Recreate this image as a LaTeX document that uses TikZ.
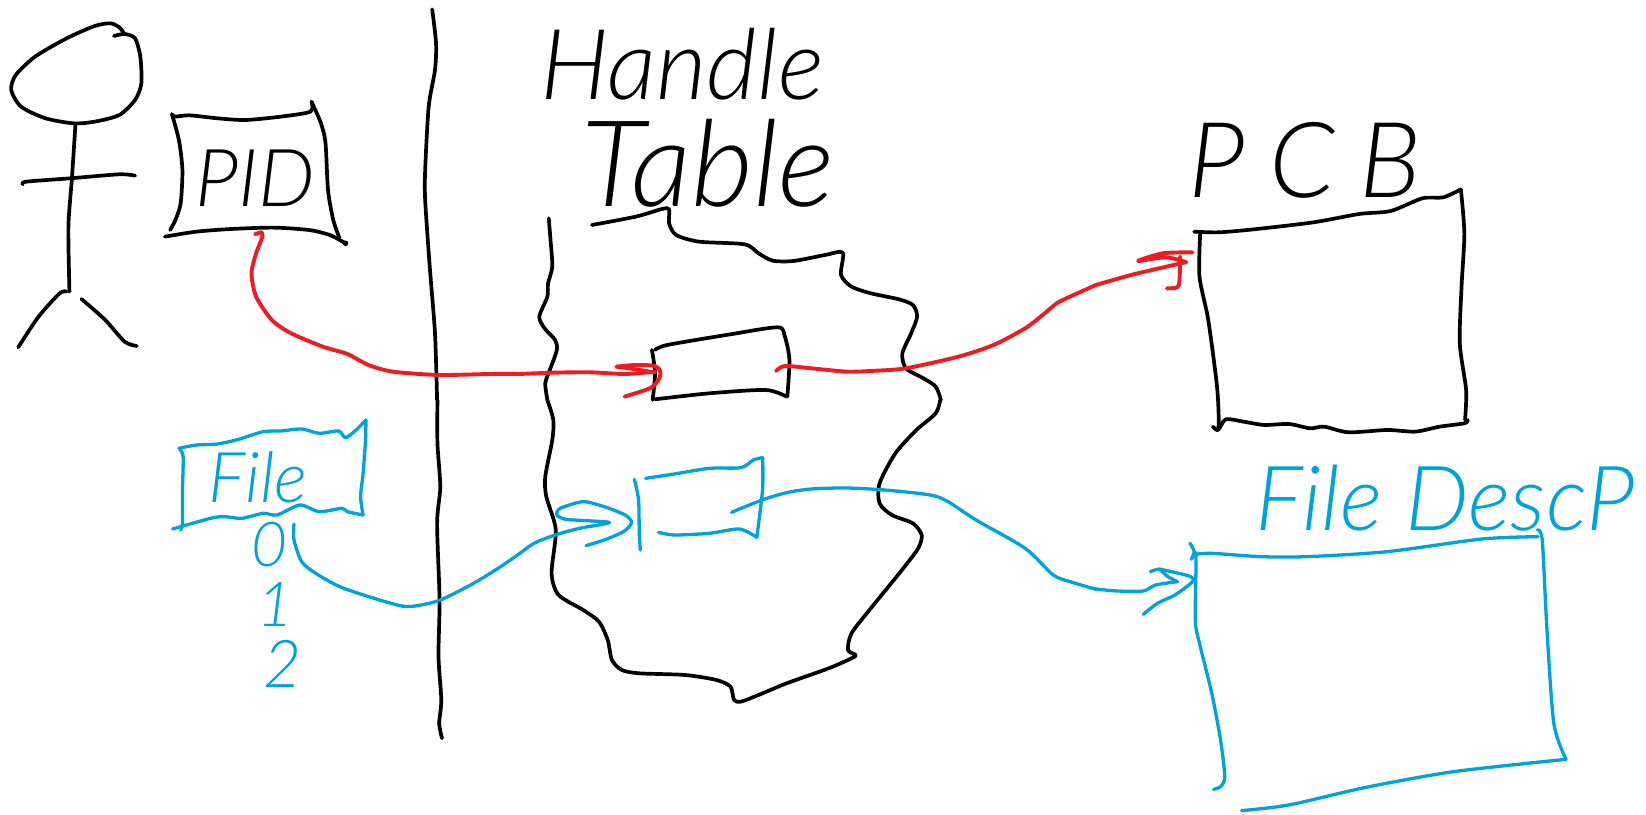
\documentclass[tikz,border=0pt]{standalone}
\usepackage{fontspec}
\usepackage{tikz}
\newfontfamily\handfont{Lato Light}
\definecolor{penblue}{RGB}{0,162,219}
\definecolor{penred}{RGB}{237,28,36}
\tikzset{
  pen/.style={line width=3.7pt,line cap=round,line join=round,smooth,tension=0.45},
  bluepen/.style={pen,line width=3.3pt,penblue},
  redpen/.style={pen,line width=3.9pt,penred},
  strokes/.style={x=0.3508pt,y=-0.3333pt},
  handtext/.style={font=\handfont\itshape\fontsize{#1}{#1}\selectfont,inner sep=0pt}
}
\begin{document}
\begin{tikzpicture}[x=1pt,y=-1pt]
          \useasboundingbox (0,0) rectangle (1646,814);

          \begin{scope}[strokes]
            \draw[pen] plot coordinates {(325,108) (355,102) (385,115) (400,170) (403,250) (385,300) (340,345) (270,365) (210,370) (130,355) (60,320) (32,270) (45,225) (100,170) (190,115) (270,78) (315,70) (340,82) (355,102)};
            \draw[pen] plot coordinates {(215,375) (205,535) (195,680) (198,875)};
            \draw[pen] plot coordinates {(65,553) (75,545) (200,535) (340,523) (385,527)};
            \draw[pen] plot coordinates {(190,875) (170,880) (110,950) (52,1042)};
            \draw[pen] plot coordinates {(232,897) (300,960) (355,1025) (390,1038)};

            \draw[pen] plot coordinates {(490,345) (500,350) (540,346) (620,355) (700,360) (800,350) (885,335) (888,305)};
            \draw[pen] plot coordinates {(888,305) (915,370) (928,430) (935,570) (950,660) (968,715)};
            \draw[pen] plot coordinates {(490,342) (510,420) (520,510) (515,610) (500,660) (485,690)};
            \draw[pen] plot coordinates {(470,710) (560,695) (660,687) (780,683) (880,690) (940,705) (985,730)};
            \fill (985,730) circle [radius=2.8pt];

            \draw[pen] plot coordinates {(1232,28) (1243,130) (1240,210) (1222,320) (1212,510) (1212,600) (1225,800) (1240,1000) (1246,1200)};

            \draw[redpen] plot coordinates {(727,703) (745,697) (748,710) (730,760) (717,820) (730,890) (775,960) (830,1000) (920,1040) (990,1062) (1050,1095) (1120,1115) (1250,1125) (1400,1122) (1482,1122)};
          \end{scope}

          \begin{scope}[yshift=-400pt,strokes]
            \draw[pen] plot coordinates {(1247,0) (1247,130) (1255,260) (1246,370) (1253,600) (1250,770) (1258,900) (1252,970) (1260,1015)};

            \draw[bluepen] plot coordinates {(510,145) (560,135) (620,132) (680,118) (750,95) (800,93) (860,87) (910,100) (965,93) (985,113) (1015,90) (1043,60)};
            \draw[bluepen] plot coordinates {(512,148) (522,170) (520,280) (520,370) (515,390)};
            \draw[bluepen] plot coordinates {(1043,60) (1042,120) (1035,220) (1028,290) (1035,345)};
            \draw[bluepen] plot coordinates {(492,387) (600,355) (640,350) (690,355) (750,340) (790,345) (855,315) (910,335) (975,325) (990,335) (1035,345)};

            \draw[bluepen] plot coordinates {(838,372) (838,420) (860,485) (900,520) (980,565) (1140,617) (1200,615) (1260,598) (1350,550) (1420,505) (1482,460)};
          \end{scope}

          \begin{scope}[xshift=520pt,strokes]
            \draw[pen] plot coordinates {(82,655) (87,720) (92,800) (80,850) (78,890) (55,950) (70,985) (100,1020) (105,1050) (85,1110) (72,1150) (78,1200)};
            \draw[pen] plot coordinates {(205,675) (330,650) (405,627) (425,628) (425,670) (445,705) (510,725) (640,733) (680,760) (720,782) (780,783) (870,765) (920,758) (915,825) (945,860) (1000,880) (1080,898) (1120,915) (1132,950) (1115,1000) (1090,1060) (1100,1105) (1150,1135) (1185,1160) (1200,1200)};

            \draw[pen] plot coordinates {(376,1050) (385,1120) (378,1200)};
            \draw[pen] plot coordinates {(385,1050) (420,1035) (600,1003) (735,982) (755,1010) (768,1080) (762,1190)};
            \draw[pen] plot coordinates {(385,1198) (540,1180) (700,1170) (760,1190)};

            \draw[redpen] plot coordinates {(0,1122) (100,1118) (200,1117) (300,1122) (385,1115)};
            \draw[redpen] plot coordinates {(275,1100) (330,1095) (385,1098) (400,1115) (395,1140) (370,1165) (298,1190)};
            \draw[redpen] plot coordinates {(275,1100) (330,1108) (385,1118)};

            \draw[redpen] plot coordinates {(730,1113) (755,1098) (830,1105) (930,1115) (1000,1113) (1100,1105) (1250,1070) (1350,1035) (1440,985) (1490,945) (1530,910) (1568,890) (1642,855)};
          \end{scope}

          \begin{scope}[xshift=520pt,yshift=-400pt,strokes]
            \draw[pen] plot coordinates {(78,0) (95,60) (92,120) (72,230) (75,290) (102,390) (90,520) (110,585) (180,630) (225,665) (250,720) (262,780) (290,810) (340,820) (470,825) (560,840) (600,860) (610,900) (630,905) (680,885) (760,850) (880,805) (945,775) (957,765) (935,750) (945,700) (1000,625) (1085,515) (1135,445) (1145,405) (1120,370) (1060,345) (1025,310) (1025,250) (1070,160) (1130,90) (1185,40) (1198,0)};

            \draw[bluepen] plot coordinates {(0,460) (40,430) (100,405) (170,385) (255,368) (190,362) (130,358) (105,345) (115,325) (180,305) (240,320) (300,345) (318,368) (295,395) (240,420) (188,437)};

            \draw[bluepen] plot coordinates {(326,238) (338,300) (340,400) (343,450)};
            \draw[bluepen] plot coordinates {(358,235) (440,222) (540,205) (630,203) (665,180) (692,173)};
            \draw[bluepen] plot coordinates {(692,173) (692,260) (685,330) (675,412)};
            \draw[bluepen] plot coordinates {(395,397) (440,405) (540,400) (625,387) (675,412)};

            \draw[bluepen] plot coordinates {(603,337) (690,300) (760,278) (830,267) (930,264) (1040,270) (1170,285) (1220,305) (1300,360) (1440,445) (1520,525) (1568,545) (1642,568)};
          \end{scope}

          \begin{scope}[xshift=1096pt,yshift=-100pt,strokes]
            \draw[pen] plot coordinates {(280,395) (350,397) (450,388) (620,367) (750,342) (840,333) (930,295) (990,292) (1040,268)};
            \draw[pen] plot coordinates {(297,400) (295,530) (320,660) (345,860) (350,970) (345,990)};
            \draw[pen] plot coordinates {(333,980) (348,990) (370,958) (420,965) (480,975) (550,972) (610,985) (650,980) (720,997) (830,990) (910,995) (980,980) (1050,970) (1060,960)};
            \draw[pen] plot coordinates {(1040,268) (1050,400) (1042,560) (1037,730) (1055,870) (1052,960)};

            \draw[redpen] plot coordinates {(0,555) (100,525) (180,505) (255,487)};
            \draw[redpen] plot coordinates {(275,457) (190,460) (120,483) (200,472) (258,487)};
            \draw[redpen] plot coordinates {(240,470) (238,540) (232,562) (202,565)};
          \end{scope}

          \begin{scope}[xshift=1096pt,yshift=-440pt,strokes]
            \draw[bluepen] plot coordinates {(268,310) (280,335) (272,358) (285,345) (283,540) (295,610) (330,760) (355,900) (367,1010) (355,1040) (335,1048)};
            \draw[bluepen] plot coordinates {(285,343) (330,340) (470,350) (600,350) (830,335) (1100,297) (1260,290)};
            \draw[bluepen] plot coordinates {(1258,270) (1272,300) (1285,560) (1305,850) (1340,958)};
            \draw[bluepen] plot coordinates {(1340,958) (1020,995) (770,1042) (550,1095) (415,1112)};

            \draw[bluepen] plot coordinates {(0,447) (60,453) (135,453) (170,435) (232,425)};
            \draw[bluepen] plot coordinates {(155,395) (180,388) (205,410) (232,425)};
            \draw[bluepen] plot coordinates {(180,387) (265,408) (275,425) (225,465) (175,490) (135,523)};
          \end{scope}

          \node[handtext=98] (handle) at (682,64) {Handle};
          \node[handtext=120] (tablelabel) at (708,163) {Table};
          \node[handtext=80] (pidlabel) at (255,178) {PID};
          \node[handtext=105] (pcblabel) at (1305,160) {P\kern24pt C\kern24pt B};
          \node[handtext=70,penblue] (filelabel) at (258,477) {File};
          \node[handtext=62,penblue] (slotzero) at (269,545) {0};
          \node[handtext=62,penblue] (slotone) at (275,604) {1};
          \node[handtext=66,penblue] (slottwo) at (283,664) {2};
          \node[handtext=90,penblue] (desclabel) at (1445,498) {File DescP};
        \end{tikzpicture}
\end{document}
